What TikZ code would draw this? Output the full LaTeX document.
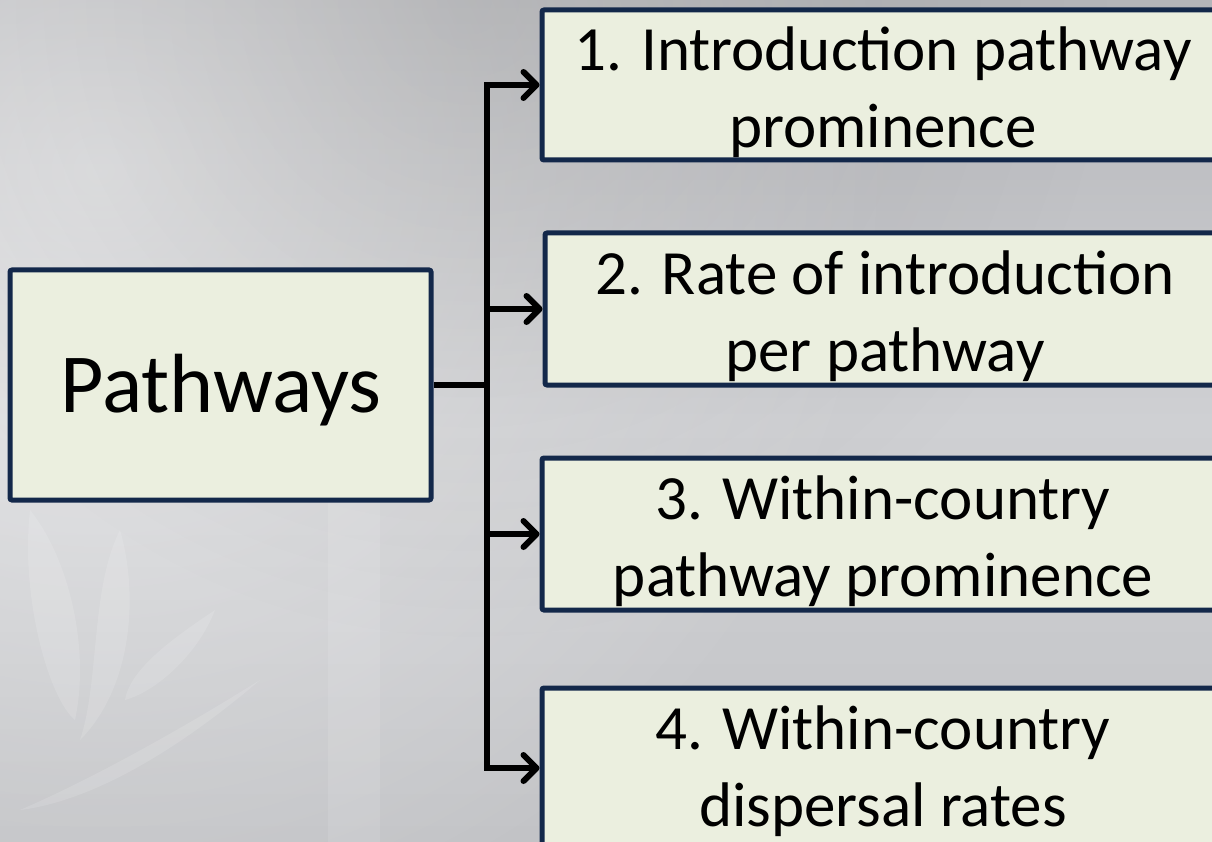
\documentclass[tikz,border=0pt]{standalone}
\usepackage{fontspec}
\setmainfont{Carlito}
\usetikzlibrary{arrows.meta,fadings}
\tikzfading[name=spotfade, inner color=transparent!0, outer color=transparent!100]
\definecolor{boxfill}{HTML}{EBEFDF}
\definecolor{boxedge}{HTML}{13284A}
\definecolor{bgtop}{HTML}{B4B5B9}
\definecolor{bgmid}{HTML}{CFD0D3}
\definecolor{bgbot}{HTML}{C2C3C6}
\begin{document}
\begin{tikzpicture}[x=1pt,y=-1pt,
  box/.style={draw=boxedge,fill=boxfill,line width=5pt,rounded corners=2pt,inner sep=0pt},
  txt/.style={font=\fontsize{63}{77}\selectfont,align=center,inner sep=0pt,anchor=north},
  bigtxt/.style={font=\fontsize{84}{100}\selectfont,inner sep=0pt,anchor=north},
  conn/.style={line width=6pt,black,line join=miter},
  arr/.style={conn,-{Straight Barb[length=13pt,width=26pt,line cap=round,line join=round]}},
  leaf/.style={fill=white,opacity=0.13}]
\useasboundingbox (0,0) rectangle (1212,842);
\clip (0,0) rectangle (1212,842);
% background
\shade[top color=bgtop,bottom color=bgbot,middle color=bgmid] (0,0) rectangle (1212,842);
\fill[white,opacity=0.55,path fading=spotfade] (100,170) circle (800);
\fill[black!60,opacity=0.18,path fading=spotfade] (470,0) circle (640);
\fill[white,opacity=0.1] (328,500) rectangle (380,842);
% faint leaves
\fill[leaf] (30,510) .. controls (20,600) and (50,700) .. (75,720) .. controls (90,650) and (70,560) .. (30,510);
\fill[leaf] (120,530) .. controls (90,590) and (100,680) .. (80,740) .. controls (130,690) and (140,600) .. (120,530);
\fill[leaf] (215,610) .. controls (170,640) and (130,670) .. (125,700) .. controls (160,690) and (200,650) .. (215,610);
\fill[leaf] (260,680) .. controls (180,730) and (90,780) .. (20,810) .. controls (100,800) and (190,740) .. (260,680);
% boxes
\node[box,minimum width=421pt,minimum height=230pt] (P) at (220.5,385) {};
\node[box,minimum width=683pt,minimum height=150pt] (B1) at (883.5,85) {};
\node[box,minimum width=680pt,minimum height=152pt] (B2) at (885,309) {};
\node[box,minimum width=683pt,minimum height=152pt] (B3) at (883.5,534) {};
\node[box,minimum width=683pt,minimum height=160pt] (B4) at (883.5,768) {};
% texts
\node[bigtxt] (tP) at (221,342) {\rule{0pt}{70pt}Pathways};
\node[txt] (t1) at (883,20) {\rule{0pt}{50pt}1. Introduction pathway\\prominence};
\node[txt] (t2) at (885,244) {\rule{0pt}{50pt}2. Rate of introduction\\per pathway};
\node[txt] (t3) at (883,469) {\rule{0pt}{50pt}3. Within-country\\pathway prominence};
\node[txt] (t4) at (883,699) {\rule{0pt}{50pt}4. Within-country\\dispersal rates};
% connectors
\coordinate (j) at (487,385);
\draw[conn] (P.east) -- (j);
\draw[arr] (j) |- (B1.west);
\draw[arr] (j) |- (B2.west);
\draw[arr] (j) |- (B3.west);
\draw[arr] (j) |- (B4.west);
\end{tikzpicture}
\end{document}
